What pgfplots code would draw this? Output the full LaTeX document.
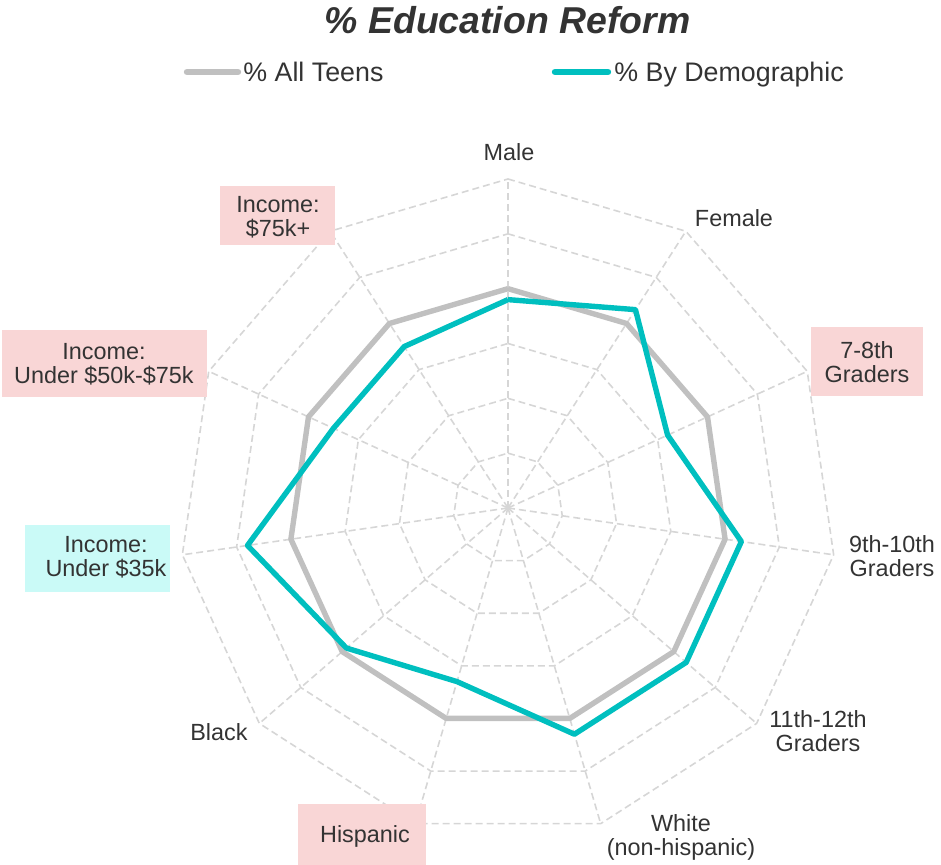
\documentclass[border=0pt]{standalone}
\usepackage{fontspec}
\setmainfont{Liberation Sans}
\usepackage{pgfplots}
\pgfplotsset{compat=1.18}
\usepgfplotslibrary{polar}
\definecolor{gridc}{HTML}{D6D6D6}
\definecolor{allc}{HTML}{C0C0C0}
\definecolor{demc}{HTML}{00BFBF}
\definecolor{txt}{HTML}{333333}
\definecolor{pinkbox}{HTML}{F9D6D6}
\definecolor{cyanbox}{HTML}{CAFAF7}
\begin{document}
\begin{tikzpicture}
\useasboundingbox (-254pt,-178.5pt) rectangle (216.5pt,254pt);
\begin{polaraxis}[at={(0,0)}, anchor=center, scale only axis, width=329pt, height=329pt,
  hide axis, ymin=0, ymax=60, clip=false]
\pgfplotsinvokeforeach{90,57.2727,24.5455,-8.1818,-40.9091,-73.6364,-106.3636,-139.0909,-171.8182,-204.5455,-237.2727}{
  \addplot[gridc, line width=0.8pt, dash pattern=on 3.5pt off 2pt, forget plot] coordinates {(#1,0) (#1,60)};
}
\pgfplotsinvokeforeach{10,20,30,40,50,60}{
  \addplot[gridc, line width=0.8pt, dash pattern=on 3.5pt off 2pt, forget plot] coordinates {(90,#1) (57.2727,#1) (24.5455,#1) (-8.1818,#1) (-40.9091,#1) (-73.6364,#1) (-106.3636,#1) (-139.0909,#1) (-171.8182,#1) (-204.5455,#1) (-237.2727,#1) (-270,#1)};
}
% % All Teens
\addplot[allc, line width=2.7pt, line join=round] coordinates {(90,40) (57.2727,40) (24.5455,40) (-8.1818,40) (-40.9091,40) (-73.6364,40) (-106.3636,40) (-139.0909,40) (-171.8182,40) (-204.5455,40) (-237.2727,40) (-270,40)};
% % By Demographic
\addplot[demc, line width=2.7pt, line join=round] coordinates {(90,38) (57.2727,43) (24.5455,32) (-8.1818,43) (-40.9091,43) (-73.6364,43) (-106.3636,33) (-139.0909,39) (-171.8182,48) (-204.5455,35) (-237.2727,35) (-270,38)};
\end{polaraxis}
% title
\node[text=txt, font=\fontsize{18.7}{22}\selectfont\bfseries\itshape] at (-0.25pt,244pt) {\% Education Reform};
% legend
\draw[allc, line width=3.2pt, line cap=round] (-160.5pt,218pt) -- (-135pt,218pt);
\node[anchor=base west, inner sep=0pt, text=txt, font=\fontsize{13.4}{15}\selectfont] at (-132.5pt,213.2pt) {\% All Teens};
\draw[demc, line width=3.2pt, line cap=round] (23.5pt,218pt) -- (50pt,218pt);
\node[anchor=base west, inner sep=0pt, text=txt, font=\fontsize{13.4}{15}\selectfont] at (53pt,213.2pt) {\% By Demographic};
% boxes
\fill[pinkbox] (151.5pt,90.25pt) rectangle (207.5pt,55.75pt);
\fill[pinkbox] (-105pt,-148pt) rectangle (-41pt,-178.5pt);
\fill[cyanbox] (-241.5pt,-8.5pt) rectangle (-169pt,-42pt);
\fill[pinkbox] (-253pt,89pt) rectangle (-150.5pt,55.5pt);
\fill[pinkbox] (-144pt,161pt) rectangle (-86.5pt,131.5pt);
% labels
\begin{scope}[every node/.style={text=txt, align=center, inner sep=0pt, font=\fontsize{11.7}{12}\selectfont}]
\node at (0.5pt,178pt) {Male};
\node at (113pt,145pt) {Female};
\node at (179.5pt,73pt) {7-8th\\Graders};
\node at (192pt,-24pt) {9th-10th\\Graders};
\node at (155pt,-111.5pt) {11th-12th\\Graders};
\node at (86.5pt,-164.5pt) {White\\(non-hispanic)};
\node at (-71.5pt,-164pt) {Hispanic};
\node at (-144.5pt,-112pt) {Black};
\node at (-201pt,-24.5pt) {Income:\\Under \$35k};
\node at (-202pt,72pt) {Income:\\Under \$50k-\$75k};
\node at (-115pt,145.5pt) {Income:\\\$75k+};
\end{scope}
\end{tikzpicture}
\end{document}
